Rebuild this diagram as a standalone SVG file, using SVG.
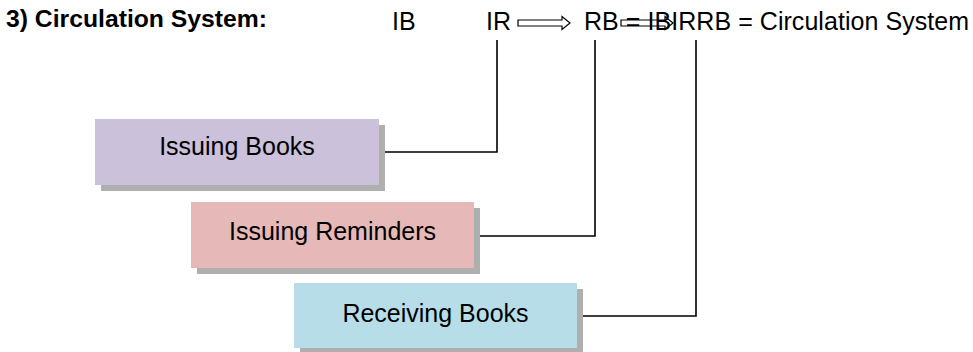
<svg xmlns="http://www.w3.org/2000/svg" xmlns:xlink="http://www.w3.org/1999/xlink" width="973" height="352" viewBox="0 0 973 352">
  <style>
    .head { font-family: "Liberation Sans", Arial, sans-serif; font-weight: bold; font-size: 23px; fill: #000; }
    .eq { font-family: "Liberation Sans", Arial, sans-serif; font-size: 25px; fill: #000; }
    .label { font-family: "Liberation Sans", Arial, sans-serif; font-size: 25px; fill: #000; text-anchor: middle; }
    .shadow { fill: #afafaf; }
    .wire { fill: none; stroke: #000; stroke-width: 1.6; }
    .blockarrow { fill: #fff; stroke: #000; stroke-width: 1.2; }
  </style>
  <defs>
    <!-- hollow block arrow, origin at the tail centre -->
    <path id="blockArrow" d="M0,-3 H44 V-6.5 L52,0 L44,6.5 V3 H0 Z"/>
  </defs>

  <rect width="973" height="352" fill="#fff"/>

  <!-- heading line -->
  <text class="head" x="6" y="27" textLength="261" lengthAdjust="spacingAndGlyphs">3) Circulation System:</text>
  <g id="formula">
    <text class="eq" x="392" y="30">IB</text>
    <text class="eq" x="486" y="30">IR</text>
    <use xlink:href="#blockArrow" class="blockarrow" transform="translate(518,23)"/>
    <use xlink:href="#blockArrow" class="blockarrow" transform="translate(621,23)"/>
    <text class="eq" x="584" y="30" textLength="385">RB = IBIRRB = Circulation System</text>
  </g>

  <!-- connectors from each box up to the formula -->
  <g id="connectors">
    <polyline class="wire" points="385,152 497,152 497,40"/>
    <polyline class="wire" points="480,236 595,236 595,40"/>
    <polyline class="wire" points="583,316 696,316 696,40"/>
  </g>

  <g id="issuing-books">
    <rect class="shadow" x="101" y="125" width="284" height="66"/>
    <rect x="95" y="119" width="284" height="66" fill="#ccc1da"/>
    <text class="label" x="237" y="155">Issuing Books</text>
  </g>

  <g id="issuing-reminders">
    <rect class="shadow" x="197" y="208" width="283" height="66"/>
    <rect x="191" y="202" width="283" height="66" fill="#e6b9b8"/>
    <text class="label" x="332.5" y="240">Issuing Reminders</text>
  </g>

  <g id="receiving-books">
    <rect class="shadow" x="300" y="289" width="283" height="65"/>
    <rect x="294" y="283" width="283" height="65" fill="#b7dee8"/>
    <text class="label" x="435.5" y="322">Receiving Books</text>
  </g>
</svg>
